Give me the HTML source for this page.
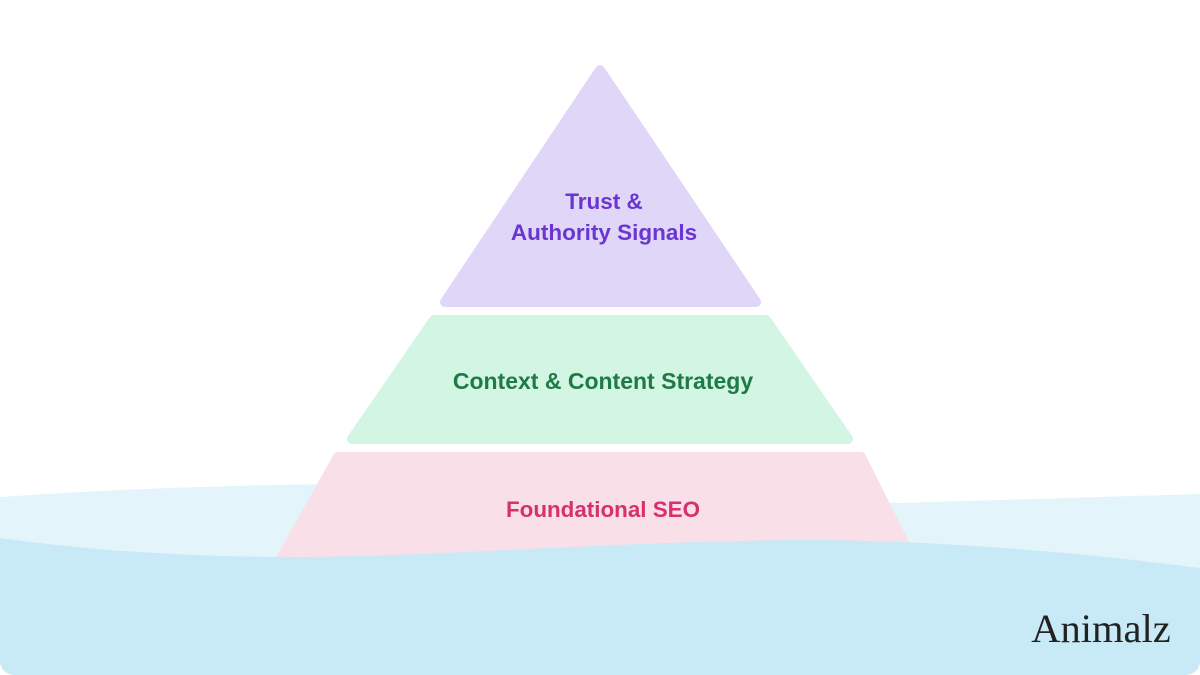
<!DOCTYPE html>
<html><head><meta charset="utf-8"><style>
html,body{margin:0;padding:0;background:#fff;}
svg{display:block;}
text{font-family:"Liberation Sans",sans-serif;font-weight:bold;}
</style></head><body>
<svg width="1200" height="675" viewBox="0 0 1200 675" xmlns="http://www.w3.org/2000/svg">
<defs><clipPath id="c"><rect x="0" y="0" width="1200" height="675" rx="14"/></clipPath></defs>
<g clip-path="url(#c)">
<rect width="1200" height="675" fill="#fff"/>
<path d="M0,497 C100,490 200,486 330,484 L900,503 L1200,494 L1200,600 L0,600Z" fill="#e3f5fb"/>
<polygon points="600,70 756,302 445,302" fill="#e0d6f8" stroke="#e0d6f8" stroke-width="10" stroke-linejoin="round"/>
<polygon points="434,320 766,320 848,439 352,439" fill="#d3f5e4" stroke="#d3f5e4" stroke-width="10" stroke-linejoin="round"/>
<polygon points="338,457 861,457 920,575 272,575" fill="#f9dfe8" stroke="#f9dfe8" stroke-width="10" stroke-linejoin="round"/>
<path d="M0,538 C100,552 200,557 300,557 C450,556 600,542 800,540 C950,540 1100,555 1200,568 L1200,675 L0,675 Z" fill="#c8eaf6"/>
<text x="604" y="209" text-anchor="middle" font-size="22.5" fill="#6a35d0">Trust &amp;</text>
<text x="604" y="240" text-anchor="middle" font-size="22.5" fill="#6a35d0">Authority Signals</text>
<text x="603" y="389" text-anchor="middle" font-size="23" fill="#1f7a45">Context &amp; Content Strategy</text>
<text x="603" y="517" text-anchor="middle" font-size="22.4" fill="#d6306e">Foundational SEO</text>
<text x="1101" y="642" text-anchor="middle" font-size="40.5" style="font-family:'Liberation Serif',serif;font-weight:normal" fill="#222">Animalz</text>
</g>
</svg>
</body></html>
